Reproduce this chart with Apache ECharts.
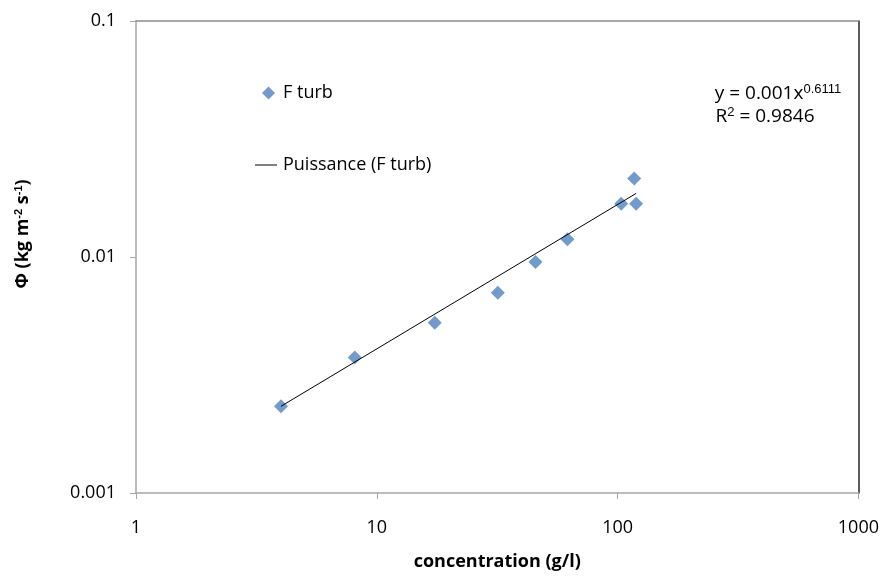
<!DOCTYPE html>
<html lang="fr" style="height: 100%">
<head>
  <meta charset="utf-8">
</head>
<body style="height: 100%; margin: 0; background: #fff">
  <div id="container" style="width: 882px; height: 576px"></div>

  <script type="text/javascript" src="https://cdn.jsdelivr.net/npm/echarts@6/dist/echarts.min.js"></script>
  <script type="text/javascript">
    // mesures F turb (concentration g/l, flux kg m-2 s-1)
    var concentration = [4.0, 8.1, 17.4, 31.8, 45.6, 61.9, 103.5, 117.2, 119.4];
    var flux = [0.00233, 0.00375, 0.00527, 0.00705, 0.00953, 0.0119, 0.0168, 0.0215, 0.0168];

    // courbe de tendance (Puissance), extrémités
    var trendX = [4.0, 119.4];
    var trendY = [0.00233, 0.0186];

    var xTicks = [1, 10, 100, 1000];
    var yTicks = [0.001, 0.01, 0.1];

    var font = '"Open Sans", "Noto Sans", sans-serif';

    var dom = document.getElementById('container');
    var myChart = echarts.init(dom, null, { renderer: 'canvas' });

    var option = {
      animation: false,
      backgroundColor: '#fff',
      textStyle: { fontFamily: font },
      grid: { left: 136, right: 21, top: 21, bottom: 81 },
      legend: [
        {
          data: ['F turb'],
          icon: 'diamond',
          itemWidth: 13,
          itemHeight: 13,
          itemGap: 0,
          left: 257,
          top: 79,
          textStyle: { fontSize: 18, color: '#000', fontFamily: font, padding: [0, 0, 0, 3] }
        },
        {
          data: ['Puissance (F turb)'],
          icon: 'rect',
          itemWidth: 22,
          itemHeight: 1,
          left: 250,
          top: 151,
          textStyle: { fontSize: 18, color: '#000', fontFamily: font, padding: [0, 0, 0, 1] }
        }
      ],
      xAxis: [
        {
          type: 'log',
          logBase: 10,
          min: xTicks[0],
          max: xTicks[xTicks.length - 1],
          name: 'concentration (g/l)',
          nameLocation: 'middle',
          nameGap: 60,
          nameTextStyle: { fontSize: 18, fontWeight: 'bold', color: '#000', fontFamily: font },
          axisLine: { lineStyle: { color: '#a6a6a6', width: 1.5 } },
          axisTick: { show: true, length: 6, lineStyle: { color: '#a6a6a6' } },
          minorTick: { show: false },
          splitLine: { show: false },
          axisLabel: {
            fontSize: 18, color: '#000', margin: 26, fontFamily: font,
            formatter: function (v) { return String(Math.round(v)); }
          }
        },
        {
          type: 'log',
          logBase: 10,
          min: xTicks[0],
          max: xTicks[xTicks.length - 1],
          position: 'top',
          axisLine: { lineStyle: { color: '#8c8c8c', width: 1.5 } },
          axisTick: { show: false },
          axisLabel: { show: false },
          splitLine: { show: false }
        }
      ],
      yAxis: [
        {
          type: 'log',
          logBase: 10,
          min: yTicks[0],
          max: yTicks[yTicks.length - 1],
          axisLine: { show: true, lineStyle: { color: '#a6a6a6', width: 1.5 } },
          axisTick: { show: true, length: 6, lineStyle: { color: '#a6a6a6' } },
          splitLine: { show: false },
          axisLabel: {
            fontSize: 18, color: '#000', margin: 20, fontFamily: font,
            formatter: function (v) { return String(+v.toPrecision(3)); }
          }
        },
        {
          type: 'log',
          logBase: 10,
          min: yTicks[0],
          max: yTicks[yTicks.length - 1],
          position: 'right',
          axisLine: { show: true, lineStyle: { color: '#262626', width: 1.5 } },
          axisTick: { show: false },
          axisLabel: { show: false },
          splitLine: { show: false }
        }
      ],
      graphic: [
        {
          type: 'text',
          x: 23,
          y: 234,
          rotation: Math.PI / 2,
          style: {
            text: 'Φ (kg m{sup|-2} s{sup|-1})',
            font: 'bold 18px ' + font,
            fill: '#000',
            align: 'center',
            verticalAlign: 'middle',
            rich: {
              sup: { fontSize: 11, fontWeight: 'bold', verticalAlign: 'top', padding: [0, 0, 9, 0] }
            }
          }
        },
        {
          type: 'text',
          x: 778,
          y: 94,
          style: {
            text: 'y = 0.001x{sup|0.6111}',
            font: '19px ' + font,
            fill: '#000',
            align: 'center',
            verticalAlign: 'middle',
            rich: {
              sup: { fontSize: 13, verticalAlign: 'top', padding: [0, 0, 9, 0] }
            }
          }
        },
        {
          type: 'text',
          x: 765,
          y: 117,
          style: {
            text: 'R{sup|2} = 0.9846',
            font: '19px ' + font,
            fill: '#000',
            align: 'center',
            verticalAlign: 'middle',
            rich: {
              sup: { fontSize: 13, verticalAlign: 'top', padding: [0, 0, 9, 0] }
            }
          }
        }
      ],
      series: [
        {
          name: 'Puissance (F turb)',
          type: 'line',
          symbol: 'none',
          color: '#000',
          lineStyle: { color: '#000', width: 1 },
          data: trendX.map(function (x, i) { return [x, trendY[i]]; }),
          z: 3
        },
        {
          name: 'F turb',
          type: 'scatter',
          symbol: 'diamond',
          symbolSize: 14,
          color: '#4f81bd',
          itemStyle: { color: '#4f81bd' },
          data: concentration.map(function (x, i) { return [x, flux[i]]; }),
          z: 2
        }
      ]
    };

    myChart.setOption(option);
    window.addEventListener('resize', myChart.resize);
  </script>
</body>
</html>
